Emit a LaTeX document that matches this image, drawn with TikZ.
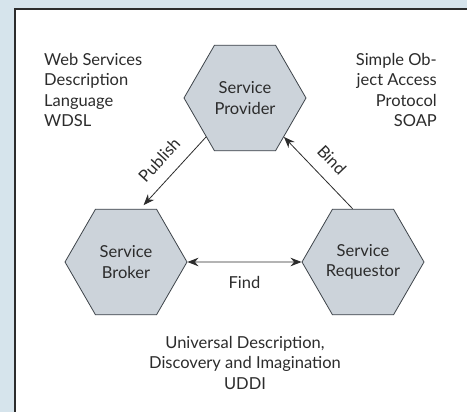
\documentclass[tikz,border=0pt]{standalone}
\usepackage{fontspec}
\setmainfont{Lato}
\usepackage{tikz}
\usetikzlibrary{shapes.geometric}
\usetikzlibrary{arrows.meta}

\definecolor{paneblue}{HTML}{D6E4EC}
\definecolor{hexfill}{HTML}{CCD3DA}
\definecolor{hexline}{HTML}{3E444A}
\definecolor{inkgray}{HTML}{2C2C2C}

\tikzset{
    role/.style={shape=regular polygon, regular polygon sides=6, minimum size=122pt,
        inner sep=0pt, fill=hexfill, draw=hexline, line width=0.8pt, align=center},
    link/.style={line width=0.8pt, draw=inkgray},
    note/.style={align=left, inner sep=0pt},
}

\begin{document}
\begin{tikzpicture}[x=1pt, y=-1pt, font=\fontsize{16.5}{20.5}\selectfont, text=inkgray,
                    >={Stealth[length=11pt,width=8.5pt]}]
                \useasboundingbox (0,0) rectangle (467,412);
                \fill[paneblue] (0,0) rectangle (467,412);
                \clip (0,0) rectangle (467,412);
                \filldraw[fill=white, draw=inkgray, line width=1.2pt] (15,9) rectangle (480,425);

                % the three roles
                \node[role] (provider) at (245, 98)  {Service\\Provider};
                \node[role] (broker) at (126, 262)   {Service\\Broker};
                \node[role] (requestor) at (363, 262) {Service\\Requestor};

                % protocol notes
                \node[note, anchor=north west] (wsdl) at (44, 53) {Web Services\\Description\\Language\\WDSL};
                \node[note, align=right, anchor=north east] (soap) at (437, 53) {Simple Ob-\\ject Access\\Protocol\\SOAP};
                \node[note, align=center, anchor=north] (uddi) at (245, 336) {Universal Description,\\Discovery and Imagination\\UDDI};

                \draw[link, ->, shorten >=5pt] (provider.225) -- (broker.75)
                    node[midway, above=9pt, sloped] {Publish};
                \draw[link, ->] (requestor.101) -- (provider.-45)
                    node[midway, above=9pt, sloped] {Bind};
                \draw[link, <->] (broker.east) -- (requestor.west)
                    node[midway, below=11pt] {Find};
            \end{tikzpicture}
\end{document}
